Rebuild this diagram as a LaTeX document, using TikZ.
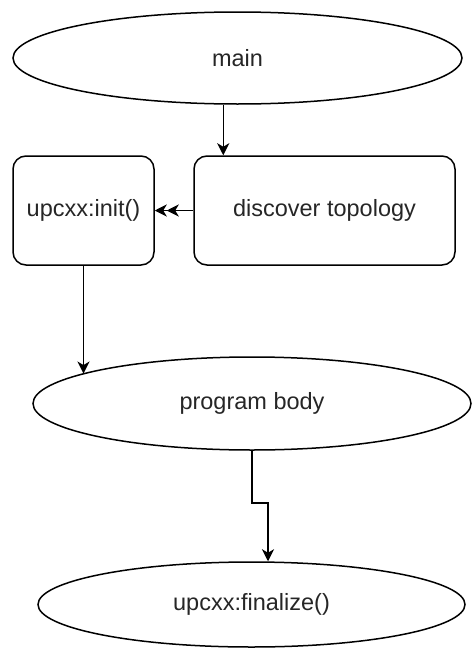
\documentclass[tikz,border=0pt]{standalone}
\usepackage{fontspec}
\setmainfont{Liberation Sans}
\usetikzlibrary{shapes.geometric,arrows.meta,calc}
\begin{document}
\begin{tikzpicture}[x=1pt,y=-1pt,
  every node/.style={font=\fontsize{23.5}{27}\selectfont, text=black!85, line width=1.5pt, draw, inner sep=0pt},
  oval/.style={ellipse},
  rbox/.style={rectangle, rounded corners=13pt},
  tip/.tip={Stealth[length=12pt,width=12pt,inset=3.5pt]},
  arr/.style={line width=1.5pt,-{tip}},
  darr/.style={line width=1.5pt,-{tip[]tip[]}}]
\useasboundingbox (0,0) rectangle (472,648);
\node[oval, minimum width=449pt, minimum height=92pt] (main) at (237.5,58) {main};
\node[rbox, minimum width=261pt, minimum height=109pt] (dt) at (324.5,210.5) {discover topology};
\node[rbox, minimum width=141pt, minimum height=109pt] (init) at (83.5,210.5) {upcxx:init()};
\node[oval, minimum width=438pt, minimum height=93pt] (body) at (252,403.5) {program body};
\node[oval, minimum width=427pt, minimum height=85pt] (fin) at (251.5,604.5) {upcxx:finalize()};
\coordinate (dtx) at ($(dt.north west)+(30,0)$);
\coordinate (finx) at ($(fin.north)+(16.5,0)$);
\draw[arr] (main.south -| dtx) -- (dtx);
\draw[darr] (dt.west) -- (init.east);
\draw[arr] (init.south) -- (init.south |- body.170.1);
\draw[arr] (body.south) -- ++(0,52) -| (finx);
\end{tikzpicture}
\end{document}
